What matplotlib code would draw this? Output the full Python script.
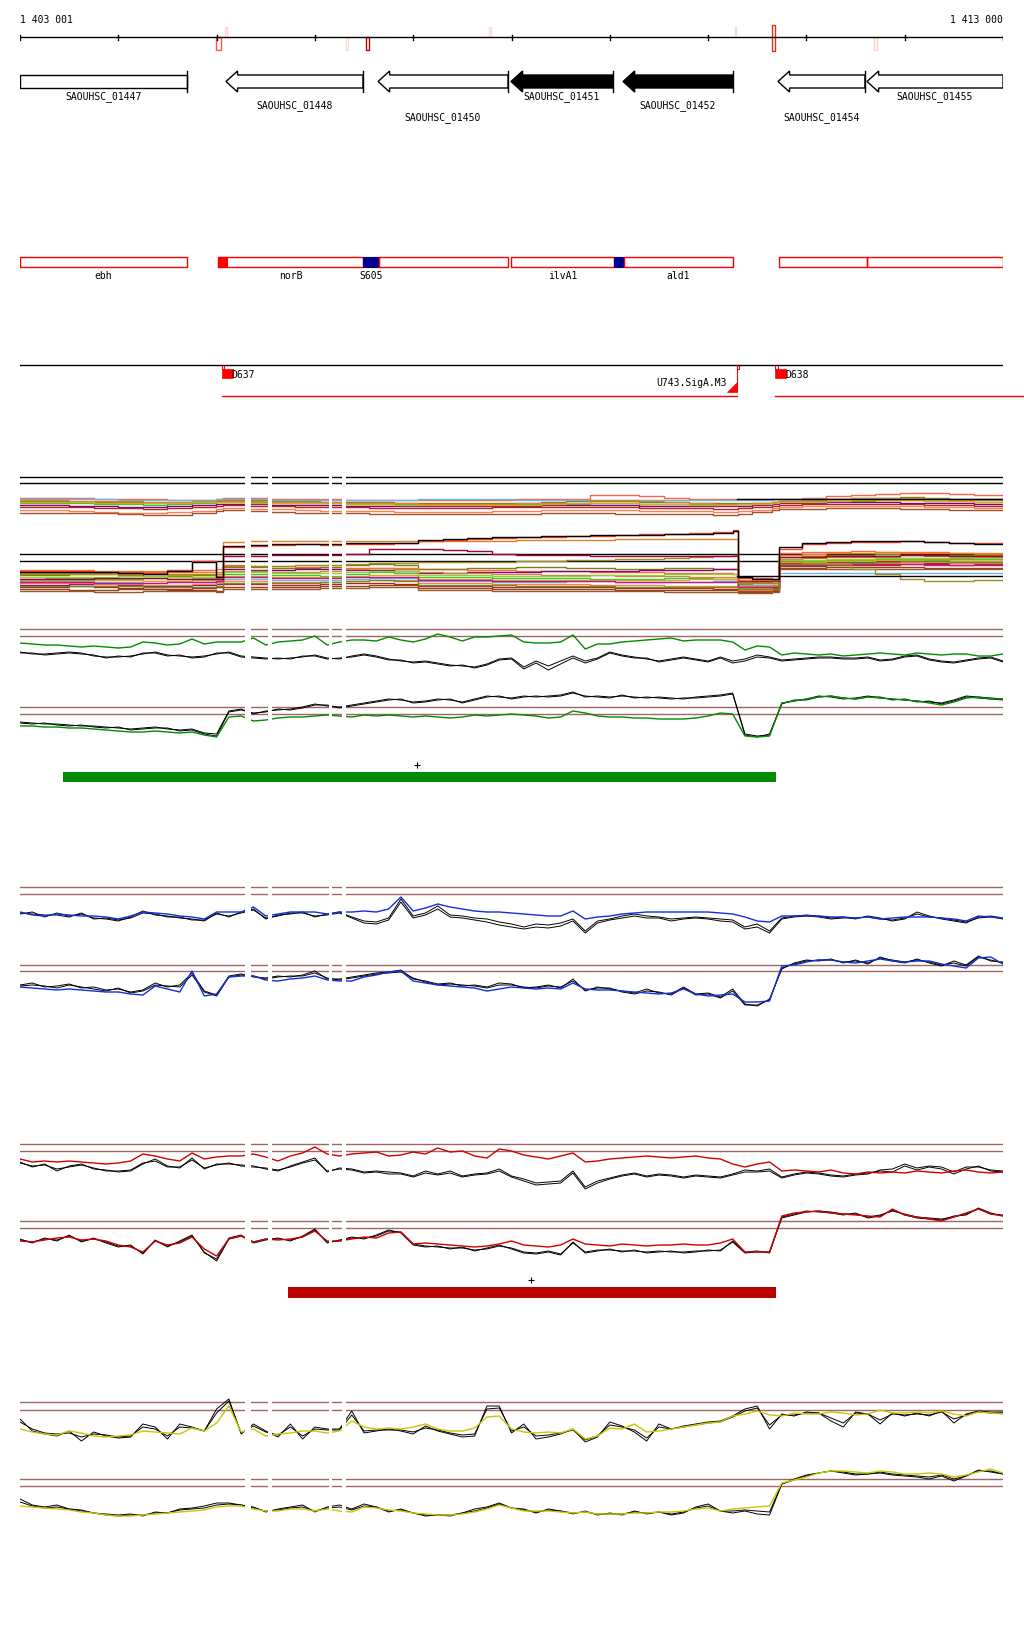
import numpy as np
import matplotlib
matplotlib.use("Agg")
import matplotlib.pyplot as plt
from matplotlib.patches import Polygon, Rectangle

FIG_W, FIG_H = 1024, 1640
START, END = 1403001, 1413000
X0_PX, X1_PX = 20, 1003

# ---------------- annotation data ----------------
coord_left_label = "1 403 001"
coord_right_label = "1 413 000"
tick_positions = [1403001, 1404001, 1405001, 1406001, 1407001, 1408001,
                  1409001, 1410001, 1411001, 1412001, 1413000]

# small marks on the coordinate axis: start, end, side, colour
mark_start = [1404995, 1405086, 1406317, 1406520, 1407772, 1410274, 1410650, 1411688]
mark_end = [1405046, 1405107, 1406337, 1406551, 1407792, 1410284, 1410681, 1411718]
mark_side = ["below", "above", "below", "below", "above", "above", "both", "below"]
mark_color = ["#ff5a3c", "#ffd2c8", "#ffdcd4", "#b00000", "#ffd8d0", "#ffd8d0", "#e03020", "#ffd0c8"]

gene_names = ["SAOUHSC_01447", "SAOUHSC_01448", "SAOUHSC_01450", "SAOUHSC_01451",
              "SAOUHSC_01452", "SAOUHSC_01454", "SAOUHSC_01455"]
gene_start = [1403001, 1405096, 1406643, 1407995, 1409135, 1410711, 1411617]
gene_end = [1404700, 1406490, 1407965, 1409033, 1410254, 1411596, 1413000]
gene_filled = [False, False, False, True, True, False, False]
gene_cut_left = [True, False, False, False, False, False, False]
gene_cut_right = [False, False, False, False, False, False, True]
gene_label_row = [0, 1, 2, 0, 1, 2, 0]

feat_names = ["ebh", "norB", "S605", "", "ilvA1", "", "ald1", "", ""]
feat_start = [1403001, 1405015, 1406490, 1406653, 1407995, 1409043, 1409145, 1410721, 1411617]
feat_end = [1404700, 1406490, 1406653, 1407965, 1409043, 1409145, 1410254, 1411617, 1413000]
feat_kind = ["box", "box", "blue", "box", "box", "blue", "box", "box", "box"]
feat_red_block = (1405015, 1405107)

promoter_names = ["D637", "D638"]
promoter_pos = [1405056, 1410682]
terminator_name = "U743.SigA.M3"
terminator_pos = [1410294]
transcript_start = [1405056, 1410682]
transcript_end = [1410294, 1413214]

# gaps without probes
gap_start = [1405290, 1405526, 1406144, 1406273]
gap_end = [1405351, 1405560, 1406178, 1406317]

# ---------------- multi-condition track (track 1) ----------------
multi_pos_offset = [0, 250, 500, 750, 1000, 1250, 1500, 1750, 1990,
                    2060, 2300, 2550, 2800, 3050, 3300, 3550, 3800, 4050, 4300, 4550,
                    4800, 5050, 5300, 5550, 5800, 6050, 6300, 6550, 6800, 7050, 7250,
                    7300, 7450, 7650,
                    7720, 7950, 8200, 8450, 8700, 8950, 9200, 9450, 9700, 9999]
multi_ref_levels = [122, 116, 45, 38]
multi_right_flat_levels = [100, 23]
multi_right_flat_start = 1410294

mt_1 = [101,101,101,100,100,100,99,99,100, 101,101,100,100,100,99,99,99,99,99,99,99,100,100,100,104,104,103,101,100,100,100, 100,100,100, 100,101,103,104,105,106,106,105,104,103]
mt_2 = [98,98,97,97,97,96,96,97,98, 99,99,98,98,97,97,97,96,96,96,96,96,96,97,98,98,98,97,97,96,96,96, 96,96,97, 98,99,100,101,101,102,101,100,100,99]
mt_3 = [96,96,96,95,95,94,95,96,97, 97,97,96,96,96,95,95,95,94,94,94,95,95,95,95,96,96,95,95,95,94,94, 95,96,97, 98,98,98,98,99,99,98,98,97,97]
mt_4 = [100,100,100,100,99,99,99,99,100, 100,100,99,99,99,99,99,99,100,100,100,100,99,99,99,99,99,99,99,99,99,99, 99,99,100, 100,100,100,100,100,100,100,100,100,100]
mt_5 = [94,94,93,93,92,92,93,94,95, 95,95,94,94,94,93,93,93,93,93,93,93,93,94,94,94,94,93,93,93,93,93, 93,94,95, 96,96,97,97,97,96,96,96,95,95]
mt_6 = [92,92,92,91,91,90,91,92,93, 94,93,93,92,92,92,91,91,91,91,91,92,92,92,92,92,92,91,91,91,90,90, 91,92,93, 94,95,95,95,95,95,94,94,93,93]
mt_7 = [99,99,98,98,98,97,97,98,99, 98,98,97,97,97,96,96,96,95,95,95,95,96,96,96,99,99,98,97,96,95,95, 95,96,97, 98,99,100,101,101,101,100,99,99,98]
mt_8 = [89,89,88,87,86,86,87,88,90, 91,90,90,89,88,88,88,87,87,87,87,88,88,89,89,89,89,88,88,88,87,87, 88,89,91, 92,93,93,93,93,93,92,92,91,91]
mt_9 = [86,86,86,86,85,84,84,86,88, 89,88,87,86,86,86,85,85,85,85,85,85,85,86,86,86,85,85,85,85,84,84, 85,87,89, 90,90,91,91,91,90,90,89,89,89]
mt_10 = [97,97,97,96,96,96,96,97,97, 97,96,96,96,96,95,95,94,94,94,94,94,94,95,96,96,96,95,95,94,94,94, 95,95,96, 97,97,98,99,99,99,98,98,97,97]
multi_top_colors = ["#ff6347", "#808000", "#32cd32", "#6ab4f0", "#800080",
                    "#b22222", "#cd853f", "#ff7f50", "#a0522d", "#daa520"]

mb_a = [28,28,27,27,26,27,28,29,30, 34,33,33,32,32,31,31,30,30,30,29,29,28,28,28,27,27,27,26,26,26,25, 17,17,18, 46,47,47,48,47,46,47,46,45,46]
mb_b = [24,24,25,25,24,23,23,24,25, 32,32,31,31,32,34,35,34,30,30,31,31,32,32,31,31,30,30,31,31,30,30, 15,16,16, 42,43,44,44,45,44,43,44,44,43]
mb_c = [20,21,21,20,20,21,22,21,21, 25,25,24,24,23,25,27,26,22,22,22,21,21,21,21,20,20,20,21,21,20,20, 12,12,13, 38,38,39,39,40,40,39,40,40,39]
mb_d = [18,18,18,17,17,18,18,17,17, 20,20,19,19,19,20,21,21,18,18,18,17,17,17,18,18,17,17,17,17,18,18, 14,14,14, 26,26,26,26,26,26,26,26,26,26]
mb_e = [14,14,15,15,14,13,13,14,15, 30,29,29,30,30,29,29,28,26,26,27,27,27,28,28,28,28,29,29,29,30,30, 10,10,11, 36,36,37,37,38,37,36,37,37,36]
mb_f = [12,12,13,12,11,10,10,11,12, 15,15,14,14,15,16,16,15,13,13,13,12,12,12,12,12,11,11,11,11,10,10, 8,8,9, 33,33,34,34,34,35,35,34,34,35]
mb_g = [26,26,26,25,25,25,24,22,20, 28,28,27,27,28,30,31,31,27,26,26,25,25,24,24,24,23,23,23,22,22,22, 13,13,14, 40,41,42,42,42,41,40,41,42,41]
mb_h = [22,22,22,22,23,23,22,22,22, 27,27,26,26,26,27,28,28,24,24,24,23,23,23,23,24,24,24,25,25,25,25, 16,16,16, 39,39,40,40,41,41,41,42,41,41]
mb_i = [10,10,9,9,10,10,9,9,8, 12,12,12,12,13,13,14,14,11,11,11,10,10,10,10,10,9,9,9,9,9,9, 7,7,8, 31,31,32,32,32,32,31,31,31,31]
mb_j = [16,16,16,15,15,14,14,15,16, 18,18,17,17,17,18,19,19,16,16,16,15,15,15,15,14,14,14,13,13,13,13, 9,9,10, 35,35,36,36,36,37,37,36,36,36]
mb_k = [19,19,19,19,19,18,18,19,19, 23,23,22,22,22,23,24,24,20,20,20,19,19,19,19,19,19,19,19,20,20,20, 11,11,12, 37,37,38,38,39,39,38,38,38,38]
mb_l = [17,17,17,16,16,16,17,17,18, 22,22,21,21,21,22,22,22,19,19,19,18,18,18,18,18,17,17,17,17,17,17, 12,12,12, 34,34,35,35,35,35,34,34,35,34]
mb_m = [8,8,8,7,7,8,8,8,7, 10,10,10,10,11,11,12,12,9,9,9,8,8,8,8,8,8,8,7,7,7,7, 6,6,7, 30,30,30,30,30,30,30,30,30,30]
mb_n = [13,13,13,13,13,12,12,12,13, 16,16,16,16,17,18,19,18,14,14,14,14,13,13,13,13,12,12,12,12,12,12, 10,10,10, 35,35,35,36,37,38,38,37,37,37]
mb_olive2 = [25,25,25,26,26,26,25,25,25, 33,33,33,34,34,35,36,36,37,37,37,37,38,38,39,39,40,40,41,42,43,44, 16,16,16, 38,36,35,30,25,20,18,18,19,18]
mb_darkred = [20,20,20,21,21,21,20,20,20, 43,43,44,44,44,45,50,50,50,49,48,45,44,44,44,43,43,43,43,43,43,43, 18,18,18, 42,42,43,43,43,44,44,43,43,43]
mb_orange = [29,29,29,28,28,28,27,27,27, 57,58,58,58,58,58,58,58,58,58,58,58,59,59,59,59,60,60,60,60,60,60, 19,19,19, 44,45,46,46,47,47,46,46,46,46]
mb_red = [28,28,28,27,27,26,29,38,23, 52,53,54,55,54,55,55,56,58,59,60,61,62,62,63,63,64,65,65,66,67,69, 21,21,20, 50,55,56,57,57,58,57,56,56,55]
mb_black = [27,27,27,27,26,25,28,37,22, 53,54,55,55,55,56,56,56,59,60,61,62,62,63,63,64,64,64,65,65,66,68, 22,20,20, 52,56,57,58,58,58,57,56,55,55]
multi_bot_colors = ["#ff6347", "#808000", "#32cd32", "#6ab4f0", "#800080", "#b22222", "#cd853f",
                    "#9acd32", "#8b4513", "#ff7f50", "#daa520", "#c71585", "#a0522d", "#6b8e23",
                    "#9a9020", "#a00040", "#e08020", "#ff4030", "#000000"]

# ---------------- track 2 (green) ----------------
green_refs = [170, 163, 92, 85]
green_top = [156,155,154,154,153,152,153,152,151,152, 157,156,154,155,160,155,157,157,157,161,
             154,157,158,159,163,154,157,159,159,158, 162,159,157,160,165,162,158,162,162,163,
             164,157,156,156,157,164,150,155,155,157, 158,159,160,161,158,159,159,159,157,149,
             153,152,144,146,145,144,145,143,144,145, 146,145,144,146,145,144,145,145,143,143, 145]
green_top_ref = [147,145,145,146,147,146,143,142,142,143, 145,147,144,143,142,143,145,147,143,142,
                 141,140,141,142,144,141,140,143,145,143, 140,138,137,138,136,134,133,132,135,140,
                 141,132,138,133,138,143,138,141,147,144, 142,140,138,140,142,140,138,142,138,140,
                 144,142,139,140,141,142,142,141,141,142, 139,140,143,144,140,138,137,139,141,142, 138]
green_top_ref2 = [146,146,144,145,146,145,144,141,143,142, 146,146,143,144,141,142,146,146,142,141,
                  140,141,140,143,143,140,141,142,144,142, 139,139,136,137,135,133,134,131,134,139,
                  140,130,136,129,135,141,136,140,146,143, 141,141,137,139,141,139,137,141,136,138,
                  142,141,138,139,140,141,141,140,140,141, 138,139,142,143,139,137,136,138,140,141, 137]
green_bot = [73,73,72,72,71,71,70,69,68,67, 67,68,67,66,67,64,62,82,83,78,
             79,81,82,82,83,84,83,82,84,83, 84,83,82,83,82,81,82,84,83,84,
             85,84,83,81,82,88,86,83,82,82, 81,81,80,80,80,81,83,86,85,63,
             62,63,96,98,100,102,103,101,100,102, 101,100,99,98,96,94,97,101,102,100, 100]
green_bot_ref = [77,76,75,75,74,73,73,72,71,70, 71,72,70,69,70,66,65,88,90,85,
                 88,89,90,92,95,93,92,94,96,98, 100,99,97,98,100,99,97,100,103,102,
                 101,103,102,103,104,107,102,103,102,103, 102,101,102,101,100,102,103,104,106,65,
                 63,64,96,98,100,103,102,100,101,103, 101,100,99,98,97,96,99,103,102,101, 100]
green_bot_ref2 = [76,75,76,74,73,74,72,71,72,69, 70,71,71,68,69,65,63,87,89,86,
                  87,90,89,91,94,94,91,93,95,97, 99,100,96,97,99,100,96,99,102,103,
                  100,102,103,102,103,106,103,102,101,104, 101,102,101,100,101,101,102,103,105,64,
                  62,65,95,99,99,102,103,101,100,102, 102,99,100,97,98,95,98,102,101,100, 99]
green_bar = (1403438, 1410691, 17, 27)
green_plus = (1407039, 34)

# ---------------- track 3 (blue) ----------------
blue_refs = [162, 155, 84, 78]
blue_top = [137,134,133,135,134,133,133,132,130,133, 137,136,135,133,132,130,137,137,137,142,
            133,135,137,137,137,135,137,137,138,137, 140,152,138,141,145,142,140,138,137,137,
            136,135,134,133,133,138,130,132,133,135, 136,137,137,137,137,137,137,136,135,132,
            128,127,133,133,133,133,132,132,131,132, 130,131,132,132,132,131,130,128,133,132, 131]
blue_top_ref = [135,137,132,136,133,135,131,130,128,132, 138,134,133,131,130,128,136,132,137,140,
                130,134,135,137,132,135,137,132,128,127, 131,150,133,136,143,134,133,131,130,127,
                125,122,125,124,126,130,118,128,130,133, 135,133,132,130,131,132,131,130,129,122,
                125,118,131,133,134,133,131,132,130,133, 131,128,130,137,133,130,128,126,132,133, 131]
blue_top_ref2 = [136,135,134,134,132,136,130,131,129,131, 136,135,132,132,129,129,135,133,136,139,
                 131,133,136,136,133,134,136,131,126,125, 129,147,131,134,140,132,131,129,127,124,
                 122,120,122,121,123,128,116,126,129,131, 133,131,131,128,130,131,130,128,127,120,
                 122,116,130,132,133,132,130,131,131,132, 130,129,131,135,132,131,129,127,131,132, 130]
blue_bot = [62,61,60,59,60,59,58,57,57,55, 54,63,60,57,78,53,55,72,73,73,
            69,68,70,71,73,69,68,68,72,74, 77,78,68,66,64,63,62,61,58,60,
            62,61,60,61,60,66,60,59,59,58, 57,56,55,56,60,55,53,54,55,47,
            47,48,83,84,87,89,89,87,86,88, 90,88,87,88,88,85,83,81,91,92, 85]
blue_bot_ref = [64,66,62,63,65,61,62,59,60,57, 59,66,62,64,76,58,54,73,75,72,
                71,73,72,74,78,70,70,72,74,76, 77,79,70,68,65,66,63,64,62,66,
                65,61,62,64,61,70,58,62,60,58, 56,60,56,55,62,55,56,52,60,45,
                43,50,80,86,89,88,90,86,89,85, 92,88,86,90,86,83,88,84,93,88, 87]
blue_bot_ref2 = [63,64,63,61,64,62,60,58,61,56, 58,64,63,62,74,57,53,72,74,73,
                 70,72,73,73,76,71,69,71,73,75, 76,77,71,67,64,65,64,63,61,64,
                 64,62,61,63,62,68,59,61,61,57, 55,58,57,54,61,54,55,51,58,44,
                 44,49,81,85,88,89,89,87,88,86, 91,89,87,89,87,84,86,83,92,89, 86]

# ---------------- track 4 (red) ----------------
red_refs = [175, 168, 98, 91]
red_top = [160,157,158,157,158,157,156,155,156,158, 165,163,160,158,166,160,162,163,163,165,
           162,158,163,166,172,165,163,165,166,167, 163,164,167,165,171,167,168,163,161,170,
           168,164,162,160,163,166,157,158,160,161, 162,163,162,161,162,163,161,160,155,152,
           155,157,148,149,148,147,149,146,145,147, 146,147,146,148,147,146,148,149,147,146, 147]
red_top_ref = [157,152,155,148,153,155,150,149,147,148, 155,160,153,151,161,150,155,155,154,153,
               150,148,153,157,161,147,151,150,147,148, 147,146,143,148,145,148,143,145,146,150,
               143,140,136,137,138,148,132,138,141,144, 146,143,145,144,142,144,143,142,145,149,
               148,150,142,145,147,146,144,143,145,146, 148,147,153,149,152,150,145,150,153,148, 147]
red_top_ref2 = [156,153,154,150,152,154,151,148,148,149, 156,158,152,152,159,151,154,156,153,152,
                151,149,152,156,159,148,150,149,146,147, 145,145,142,146,144,146,142,144,145,148,
                142,138,134,135,136,146,130,136,140,143, 145,142,144,143,141,143,142,141,144,147,
                147,148,141,144,146,145,143,142,144,145, 149,150,155,151,153,152,147,152,152,149, 148]
red_bot = [78,77,79,81,82,79,80,78,74,72, 67,78,74,76,82,70,63,80,83,77,
           80,79,80,82,88,78,78,80,82,81, 86,87,75,76,75,74,73,72,73,75,
           78,74,73,72,74,80,75,74,73,75, 74,73,74,74,75,74,74,76,80,67,
           67,67,103,106,107,108,106,105,104,103, 102,110,104,102,100,98,102,106,110,105, 103]
red_bot_ref = [80,76,81,78,84,77,81,76,72,74, 65,79,72,78,84,66,60,81,84,76,
               79,81,78,83,90,76,79,82,80,84, 89,86,74,72,73,70,72,68,71,74,
               70,66,65,67,64,77,66,68,70,67, 69,66,67,68,66,67,69,68,78,67,
               68,66,102,105,108,107,106,104,106,101, 103,109,104,101,100,99,103,104,111,106, 103]
red_bot_ref2 = [79,77,80,79,83,78,80,77,73,73, 66,78,73,77,83,67,58,80,83,77,
                80,80,79,82,89,77,78,81,81,83, 88,87,75,73,72,71,71,69,70,73,
                71,67,66,68,65,76,67,69,69,68, 68,67,68,67,67,68,68,69,77,66,
                67,67,101,104,107,108,107,105,105,102, 104,108,105,102,101,100,102,105,110,105, 104]
red_bar = (1405727, 1410691, 21, 32)
red_plus = (1408199, 39)

# ---------------- track 5 (yellow) ----------------
yellow_refs = [147, 139, 70, 63]
yellow_top = [120,117,115,114,118,116,113,112,113,114, 118,117,116,115,121,118,126,143,117,120,
              113,115,116,118,118,116,118,128,122,120, 121,120,122,125,120,118,118,121,132,133,
              120,117,116,117,116,120,110,113,121,120, 125,117,118,120,122,124,126,127,133,135,
              138,134,133,136,135,135,137,136,134,135, 139,136,136,137,136,138,135,133,137,136, 135]
yellow_top_ref = [130,118,115,113,118,108,117,113,111,112, 125,122,110,125,122,118,140,150,115,125,
                  118,112,125,110,122,120,120,138,116,118, 120,118,115,123,118,115,112,113,143,143,
                  116,125,110,112,115,120,107,112,127,123, 117,108,125,120,123,125,127,128,133,140,
                  143,120,135,133,137,136,128,122,137,135, 125,136,133,136,133,138,126,135,138,137, 137]
yellow_top_ref2 = [127,120,116,115,116,112,115,114,112,113, 122,120,113,122,121,118,136,148,116,123,
                   117,114,122,113,120,119,119,134,118,119, 119,119,117,121,119,116,114,115,140,141,
                   118,122,113,114,116,119,109,113,124,122, 119,111,122,120,122,124,126,127,132,138,
                   141,124,134,134,136,136,131,126,136,135, 129,135,134,135,134,137,130,134,137,136, 136]
yellow_bot = [43,42,41,40,39,37,36,34,33,33, 34,35,36,37,38,39,42,43,43,40,
              38,38,40,40,38,40,38,37,42,41, 39,38,36,35,34,34,35,37,40,44,
              41,38,38,38,37,36,37,35,35,35, 36,36,37,37,38,40,41,38,40,41,
              42,43,66,69,72,76,78,78,77,76, 78,77,75,75,76,75,72,74,77,80, 76]
yellow_bot_ref = [50,44,42,44,40,39,36,35,34,35, 33,37,36,40,41,43,46,46,44,42,
                  37,40,42,44,37,42,44,40,45,42, 37,40,36,33,34,33,36,40,42,46,
                  41,40,36,40,38,35,38,34,36,34, 38,35,37,34,36,42,45,38,36,38,
                  35,34,65,70,74,76,78,76,74,75, 76,74,73,72,70,73,68,73,79,77, 75]
yellow_bot_ref2 = [47,43,41,42,40,38,36,34,33,34, 34,36,36,39,40,41,44,45,44,41,
                   38,39,41,42,38,41,42,39,43,42, 38,39,36,34,34,34,36,38,41,45,
                   41,39,37,39,38,36,37,35,35,35, 37,36,37,35,37,41,43,38,38,39,
                   38,37,65,69,73,76,78,77,75,75, 77,75,74,73,72,74,70,73,78,78, 75]

# ---------------- drawing ----------------
MONO = "DejaVu Sans Mono"
FS = 7
REF_COLOR = "#a06464"

fig = plt.figure(figsize=(FIG_W / 100, FIG_H / 100), dpi=100)
fig.patch.set_facecolor("white")


def add_axes_px(top_px, bot_px):
    ax = fig.add_axes([X0_PX / FIG_W, 1 - bot_px / FIG_H,
                       (X1_PX - X0_PX) / FIG_W, (bot_px - top_px) / FIG_H])
    ax.set_xlim(START, END)
    ax.axis("off")
    return ax


# annotation area (y in layout pixels, top down)
ann = add_axes_px(0, 420)
ann.set_ylim(420, 0)

ann.text(START, 20, coord_left_label, ha="left", va="center", fontsize=FS, family=MONO)
ann.text(END, 20, coord_right_label, ha="right", va="center", fontsize=FS, family=MONO)
ann.plot([START, END], [38, 38], color="black", lw=1.0)
for t in tick_positions:
    ann.plot([t, t], [35.5, 41], color="black", lw=1.0)
for s, e, side, c in zip(mark_start, mark_end, mark_side, mark_color):
    if side == "below":
        y0, y1 = 38, 51
    elif side == "above":
        y0, y1 = 28, 38
    else:
        y0, y1 = 26, 52
    ann.add_patch(Rectangle((s, y0), e - s, y1 - y0, fill=False, ec=c, lw=1.0))

label_rows_y = [97, 106, 118]
HEAD = 118
for name, s, e, filled, cl, cr, row in zip(gene_names, gene_start, gene_end, gene_filled,
                                           gene_cut_left, gene_cut_right, gene_label_row):
    if cl:
        pts = [(s, 76), (e, 76), (e, 89), (s, 89)]
    else:
        pts = [(s, 82.5), (s + HEAD, 72), (s + HEAD, 76), (e, 76), (e, 89),
               (s + HEAD, 89), (s + HEAD, 93)]
    ann.add_patch(Polygon(pts, closed=True, fc="black" if filled else "white",
                          ec="black", lw=1.0))
    if not cr:
        ann.plot([e, e], [72, 93], color="black", lw=1.0)
    ann.text((s + e) / 2, label_rows_y[row], name, ha="center", va="center",
             fontsize=FS, family=MONO)

for name, s, e, kind in zip(feat_names, feat_start, feat_end, feat_kind):
    if kind == "blue":
        ann.add_patch(Rectangle((s, 258), e - s, 10, fc="#000090", ec="#000090", lw=0.8))
    else:
        ann.add_patch(Rectangle((s, 258), e - s, 10, fill=False, ec="#ff0000", lw=1.0))
    if name:
        ann.text((s + e) / 2, 276, name, ha="center", va="center", fontsize=FS, family=MONO)
ann.add_patch(Rectangle((feat_red_block[0], 258), feat_red_block[1] - feat_red_block[0], 10,
                        fc="#ff0000", ec="#ff0000", lw=0.8))

# transcription units
ann.plot([START, END], [366, 366], color="black", lw=1.0)
for name, p in zip(promoter_names, promoter_pos):
    ann.add_patch(Rectangle((p, 370), 110, 9, fc="#ff0000", ec="#ff0000", lw=0.5))
    ann.add_patch(Rectangle((p, 366), 25, 4, fill=False, ec="#ff0000", lw=0.8))
    ann.text(p + 100, 375, name, ha="left", va="center", fontsize=FS, family=MONO)
for p in terminator_pos:
    ann.plot([p, p], [366, 392], color="#ff0000", lw=0.8)
    ann.add_patch(Rectangle((p, 366), 20, 4, fill=False, ec="#ff0000", lw=0.8))
    ann.add_patch(Polygon([(p - 100, 393), (p, 393), (p, 383)], closed=True,
                          fc="#ff0000", ec="#ff0000", lw=0.5))
    ann.text(p - 105, 383, terminator_name, ha="right", va="center", fontsize=FS, family=MONO)
for s, e in zip(transcript_start, transcript_end):
    ann.plot([s, e], [397, 397], color="#ff0000", lw=1.0, clip_on=False)


def cut_gaps(ax):
    for g0, g1 in zip(gap_start, gap_end):
        ax.axvspan(g0, g1, color="white", lw=0, zorder=5)


# track 1: many conditions
ax1 = add_axes_px(470, 600)
ax1.set_ylim(0, 130)
mx = START + np.array(multi_pos_offset, dtype=float)
for lev in multi_ref_levels:
    ax1.axhline(lev, color="black", lw=1.0)
top_lines = [mt_1, mt_2, mt_3, mt_4, mt_5, mt_6, mt_7, mt_8, mt_9, mt_10]
for vals, col in zip(top_lines, multi_top_colors):
    v = np.array(vals, dtype=float)
    ax1.plot(mx[:len(v)], v, color=col, lw=1.0, drawstyle="steps-post")
bot_lines = [mb_a, mb_b, mb_c, mb_d, mb_e, mb_f, mb_g, mb_h, mb_i, mb_j, mb_k, mb_l,
             mb_m, mb_n, mb_olive2, mb_darkred, mb_orange, mb_red, mb_black]
for vals, col in zip(bot_lines, multi_bot_colors):
    v = np.array(vals, dtype=float)
    ax1.plot(mx[:len(v)], v, color=col, lw=1.0, drawstyle="steps-post")
for lev in multi_right_flat_levels:
    ax1.plot([multi_right_flat_start, END], [lev, lev], color="black", lw=1.0)
cut_gaps(ax1)


def pair_track(top_px, bot_px, refs, colored, blacks, color):
    ax = add_axes_px(top_px, bot_px)
    ax.set_ylim(0, bot_px - top_px)
    for lev in refs:
        ax.axhline(lev, color=REF_COLOR, lw=1.0)
    for vals in blacks:
        v = np.array(vals, dtype=float)
        ax.plot(np.linspace(START, END, len(v)), v, color="black", lw=0.7)
    for vals in colored:
        v = np.array(vals, dtype=float)
        ax.plot(np.linspace(START, END, len(v)), v, color=color, lw=1.0)
    cut_gaps(ax)
    return ax


ax2 = pair_track(600, 800, green_refs, [green_top, green_bot],
                 [green_top_ref, green_top_ref2, green_bot_ref, green_bot_ref2], "#008c00")
ax2.add_patch(Rectangle((green_bar[0], green_bar[2]), green_bar[1] - green_bar[0],
                        green_bar[3] - green_bar[2], fc="#008c00", ec="none", zorder=6))
ax2.plot([green_plus[0]], [green_plus[1]], marker="+", ms=4, color="black", mew=0.8, zorder=6)

ax3 = pair_track(850, 1050, blue_refs, [blue_top, blue_bot],
                 [blue_top_ref, blue_top_ref2, blue_bot_ref, blue_bot_ref2], "#1030e0")

ax4 = pair_track(1120, 1320, red_refs, [red_top, red_bot],
                 [red_top_ref, red_top_ref2, red_bot_ref, red_bot_ref2], "#d00000")
ax4.add_patch(Rectangle((red_bar[0], red_bar[2]), red_bar[1] - red_bar[0],
                        red_bar[3] - red_bar[2], fc="#bb0000", ec="none", zorder=6))
ax4.plot([red_plus[0]], [red_plus[1]], marker="+", ms=4, color="black", mew=0.8, zorder=6)

ax5 = pair_track(1380, 1550, yellow_refs, [yellow_top, yellow_bot],
                 [yellow_top_ref, yellow_top_ref2, yellow_bot_ref, yellow_bot_ref2], "#c8c800")

fig.savefig("out.png", dpi=100, facecolor="white")
